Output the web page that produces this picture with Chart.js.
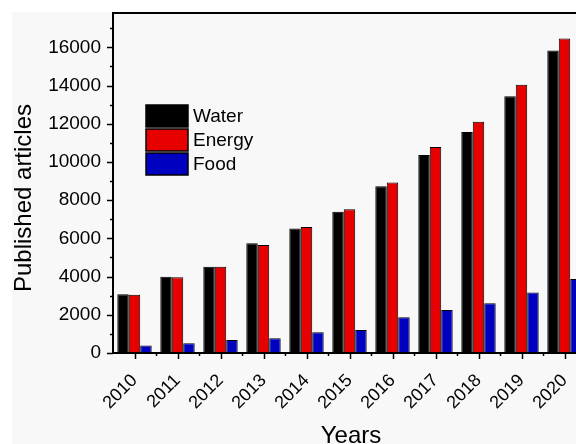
<!DOCTYPE html>
<html>
<head>
<meta charset="utf-8">
<script src="https://cdn.jsdelivr.net/npm/chart.js@4.4.1/dist/chart.umd.min.js"></script>
<style>
  html, body { margin: 0; padding: 0; overflow: hidden; background: #fff; }
  #wrap { width: 576px; height: 444px; overflow: hidden; }
</style>
</head>
<body>
<div id="wrap"><canvas id="chart" width="600" height="444"></canvas></div>
<script>
// Data
const years = ['2010', '2011', '2012', '2013', '2014', '2015', '2016', '2017', '2018', '2019', '2020'];
const water = [3070, 3990, 4520, 5740, 6520, 7390, 8730, 10370, 11570, 13440, 15840];
const energy = [3050, 3960, 4520, 5650, 6600, 7530, 8930, 10790, 12110, 14050, 16460];
const food = [390, 510, 680, 770, 1080, 1200, 1870, 2250, 2600, 3170, 3870];
const yTicks = [0, 2000, 4000, 6000, 8000, 10000, 12000, 14000, 16000];
const yMax = 17800;

const FONT = "'Liberation Sans', Arial, sans-serif";

// Background, frame, tick marks, titles and legend
const decor = {
  id: 'decor',
  beforeDraw(chart) {
    const c = chart.ctx;
    c.save();
    c.fillStyle = '#ffffff';
    c.fillRect(0, 0, chart.width, chart.height);
    c.fillStyle = '#f8f8f8';
    c.fillRect(12, 12, chart.width - 12, chart.height - 12);
    c.restore();
  },
  afterDatasetsDraw(chart) {
    const c = chart.ctx;
    const a = chart.chartArea;
    const x = chart.scales.x;
    const y = chart.scales.y;
    c.save();
    c.strokeStyle = '#000';
    c.lineWidth = 2;
    c.strokeRect(a.left, a.top, a.right - a.left, a.bottom - a.top);

    // y ticks: major every 2000, minor every 1000
    c.lineWidth = 1.5;
    for (let v = 0; v <= yMax; v += 1000) {
      const py = Math.round(y.getPixelForValue(v)) + 0.5;
      const len = v % 2000 === 0 ? 6 : 3;
      c.beginPath();
      c.moveTo(a.left - len, py);
      c.lineTo(a.left, py);
      c.stroke();
    }
    // x ticks: major at categories, minor between them
    const half = (x.getPixelForValue(1) - x.getPixelForValue(0)) / 2;
    for (let i = 0; i < years.length; i++) {
      const px = x.getPixelForValue(i);
      [[px, 6], [px + half, 3]].forEach(([tx, len]) => {
        c.beginPath();
        c.moveTo(Math.round(tx) + 0.5, a.bottom);
        c.lineTo(Math.round(tx) + 0.5, a.bottom + len);
        c.stroke();
      });
    }

    // axis titles
    c.fillStyle = '#000';
    c.font = '24px ' + FONT;
    c.textAlign = 'center';
    c.textBaseline = 'alphabetic';
    c.fillText('Years', 351, 443);
    c.translate(31, 198);
    c.rotate(-Math.PI / 2);
    c.fillText('Published articles', 0, 0);
    c.restore();

    // legend
    c.save();
    c.font = '19px ' + FONT;
    c.textBaseline = 'middle';
    c.textAlign = 'left';
    chart.data.datasets.forEach((ds, i) => {
      const by = 105 + i * 24;
      c.fillStyle = ds.backgroundColor;
      c.fillRect(146, by, 42, 22);
      c.strokeStyle = '#000';
      c.lineWidth = 1.5;
      c.strokeRect(146, by, 42, 22);
      c.fillStyle = '#000';
      c.fillText(ds.label, 193, by + 12);
    });
    c.restore();
  }
};

const mk = (label, data, color) => ({
  label: label,
  data: data,
  backgroundColor: color,
  borderColor: '#000',
  borderWidth: 1,
  categoryPercentage: 0.8,
  barPercentage: 1.0
});

new Chart(document.getElementById('chart'), {
  type: 'bar',
  data: {
    labels: years,
    datasets: [
      mk('Water', water, '#000000'),
      mk('Energy', energy, '#e60000'),
      mk('Food', food, '#0000c0')
    ]
  },
  options: {
    responsive: false,
    animation: false,
    layout: { padding: { left: 0, right: 14, top: 13, bottom: 0 } },
    plugins: {
      legend: { display: false },
      tooltip: { enabled: false }
    },
    scales: {
      x: {
        grid: { display: false, drawTicks: false },
        border: { display: false },
        ticks: {
          color: '#000',
          font: { family: FONT, size: 18 },
          minRotation: 45,
          maxRotation: 45,
          autoSkip: false,
          padding: 17
        },
        afterFit(s) {
          s.height = 91;
          s.paddingLeft = 0;
          s.paddingRight = 0;
        }
      },
      y: {
        min: 0,
        max: yMax,
        grid: { display: false, drawTicks: false },
        border: { display: false },
        afterBuildTicks(s) { s.ticks = yTicks.map(v => ({ value: v })); },
        ticks: {
          color: '#000',
          font: { family: FONT, size: 19 },
          padding: 12,
          callback: v => String(v)
        },
        afterFit(s) {
          s.width = 113;
          s.paddingTop = 0;
          s.paddingBottom = 0;
        }
      }
    }
  },
  plugins: [decor]
});
</script>
</body>
</html>
